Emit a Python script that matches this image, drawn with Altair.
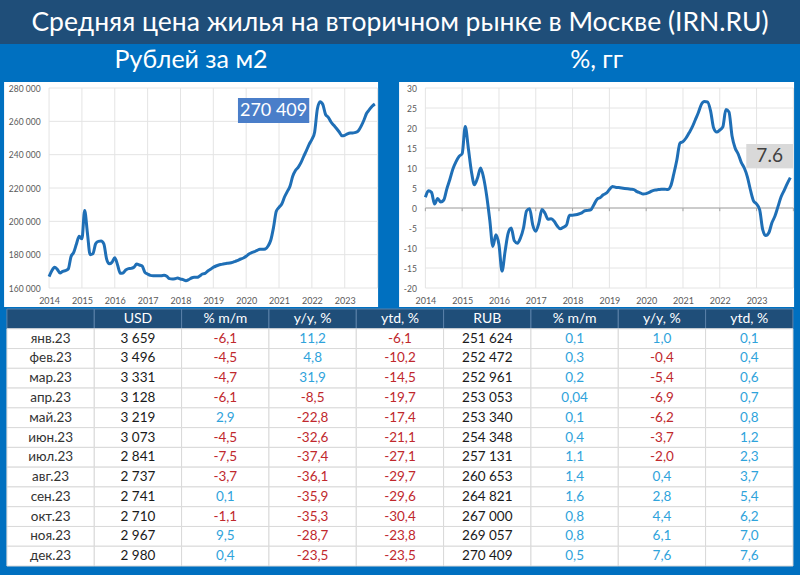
import altair as alt
import pandas as pd

# ---------------- text ----------------
TITLE = "Средняя цена жилья на вторичном рынке в Москве (IRN.RU)"
SUB_LEFT = "Рублей за м2"
SUB_RIGHT = "%, гг"

# ---------------- chart data ----------------
years = [2014, 2015, 2016, 2017, 2018, 2019, 2020, 2021, 2022, 2023]
price_ticks = [160000, 180000, 200000, 220000, 240000, 260000, 280000]
yoy_ticks = [-20, -15, -10, -5, 0, 5, 10, 15, 20, 25, 30]

# monthly, Jan 2014 .. Dec 2023, RUB per m2
price_rub = [
    166800, 170400, 172400, 171200, 169000, 170000, 170400, 171400, 178800, 181400, 186400, 191000,
    189500, 206500, 193000, 180000, 180500, 186500, 188000, 188200, 186500, 177500, 174500, 175500,
    178200, 174000, 168800, 169000, 170800, 171600, 171800, 172400, 174400, 173800, 173200, 169400,
    168400, 167600, 167400, 167400, 167400, 167400, 167600, 167000, 165600, 165400, 165600, 166000,
    165400, 165000, 164400, 165000, 166000, 166400, 166400, 167200, 168400, 168800, 170200, 171200,
    172400, 173200, 173800, 174200, 174600, 174800, 175000, 175400, 176000, 176600, 177400, 178000,
    179000, 180400, 181200, 181800, 182600, 183200, 183200, 183400, 185200, 188800, 196400, 206000,
    208400, 210400, 214600, 217800, 221000, 227000, 230500, 232400, 235200, 238900, 242400, 246200,
    249100, 253500, 267400, 271800, 270100, 264100, 262400, 259600, 257600, 255700, 253600, 251300,
    251624, 252472, 252961, 253053, 253340, 254348, 257131, 260653, 264821, 267000, 269057, 270409,
]

# monthly, Jan 2014 .. Dec 2023, % y/y
yoy_pct = [
    2.7, 4.3, 3.9, 1.0, 2.4, 1.5, 2.0, 4.8, 7.2, 9.8, 11.6, 12.9,
    13.6, 20.4, 15.0, 9.2, 5.8, 7.5, 10.0, 7.5, 3.0, -3.0, -9.6, -6.7,
    -9.2, -15.8, -10.8, -6.3, -5.0, -8.2, -8.8, -7.5, -5.0, -0.7, -0.2, -4.2,
    -5.8, -3.8, -0.4, -1.3, -2.8, -2.7, -3.3, -4.5, -5.2, -4.8, -4.3, -1.8,
    -1.8, -1.7, -1.5, -1.2, -0.7, -0.6, -0.4, 0.9, 2.2, 2.6, 3.3, 3.7,
    4.6, 5.4, 5.2, 5.1, 5.0, 4.9, 4.8, 4.7, 4.6, 4.1, 3.8, 3.5,
    3.6, 3.9, 4.3, 4.5, 4.6, 4.7, 4.7, 4.6, 5.5, 8.5, 12.0, 16.2,
    16.6, 17.5, 18.8, 20.2, 22.0, 23.8, 25.9, 26.6, 26.5, 24.3, 20.0, 19.0,
    19.5, 20.3, 24.6, 24.0, 18.0, 15.0, 13.5, 11.4, 10.0, 7.8, 4.5, 1.8,
    1.0, -0.4, -5.4, -6.9, -6.2, -3.7, -2.0, 0.4, 2.8, 4.4, 6.1, 7.6,
]

# ---------------- table data ----------------
months = ["янв.23", "фев.23", "мар.23", "апр.23", "май.23", "июн.23",
          "июл.23", "авг.23", "сен.23", "окт.23", "ноя.23", "дек.23"]
usd = [3659, 3496, 3331, 3128, 3219, 3073, 2841, 2737, 2741, 2710, 2967, 2980]
usd_mm = [-6.1, -4.5, -4.7, -6.1, 2.9, -4.5, -7.5, -3.7, 0.1, -1.1, 9.5, 0.4]
usd_yy = [11.2, 4.8, 31.9, -8.5, -22.8, -32.6, -37.4, -36.1, -35.9, -35.3, -28.7, -23.5]
usd_ytd = [-6.1, -10.2, -14.5, -19.7, -17.4, -21.1, -27.1, -29.7, -29.6, -30.4, -23.8, -23.5]
rub = [251624, 252472, 252961, 253053, 253340, 254348, 257131, 260653, 264821, 267000, 269057, 270409]
rub_mm = [0.1, 0.3, 0.2, 0.04, 0.1, 0.4, 1.1, 1.4, 1.6, 0.8, 0.8, 0.5]
rub_yy = [1.0, -0.4, -5.4, -6.9, -6.2, -3.7, -2.0, 0.4, 2.8, 4.4, 6.1, 7.6]
rub_ytd = [0.1, 0.4, 0.6, 0.7, 0.8, 1.2, 2.3, 3.7, 5.4, 6.2, 7.0, 7.6]
header = ["", "USD", "% m/m", "y/y, %", "ytd, %", "RUB", "% m/m", "y/y, %", "ytd, %"]

# ---------------- styles ----------------
FONT = "Lato"
NAVY = "#1F4E79"
BLUE = "#0070C0"
LINE = "#1f6fb6"
GRID = "#e4e4e4"
AXIS_LABEL = "#595959"
RED = "#C0282D"
LBLUE = "#2FA3DB"

assert len(price_rub) == 120 and len(yoy_pct) == 120


def fmt_int(v):
    return f"{v:,}".replace(",", " ")


def fmt_pct(v):
    s = f"{v:.1f}" if round(v, 1) == v else f"{v:.2f}"
    return s.replace(".", ",")


t_axis = [2014 + i / 12 for i in range(len(price_rub))]


def make_panel(values, ticks, ydom, x_range, y_range, width, height, label_expr,
               title, note, note_fill, note_color, note_size, zero_line):
    xs = alt.Scale(domain=[2014, 2024], range=x_range, nice=False, zero=False)
    ys = alt.Scale(domain=ydom, range=y_range, nice=False, zero=False)
    xa = alt.Axis(values=years, format="d", offset=-(height - y_range[0]),
                  domain=False, ticks=False, grid=False, labelPadding=8,
                  labelFontSize=9, labelFont=FONT, labelColor=AXIS_LABEL,
                  labelFlush=False, labelOverlap=False, title=None)
    ya = alt.Axis(values=ticks, offset=-x_range[0], domain=False, ticks=False,
                  grid=False, labelPadding=9, labelFontSize=8.5, labelFont=FONT,
                  labelColor=AXIS_LABEL, labelExpr=label_expr, title=None)

    def X(f):
        return alt.X(f, scale=xs, axis=xa, title=None)

    def Y(f):
        return alt.Y(f, scale=ys, axis=ya, title=None)

    hgrid = alt.Chart(pd.DataFrame({"v": ticks, "a": 2014, "b": 2024})).mark_rule(
        color=GRID, strokeWidth=1).encode(y=Y("v:Q"), x=X("a:Q"), x2="b:Q")
    vgrid = alt.Chart(pd.DataFrame({"yr": years + [2024], "lo": ydom[0], "hi": ydom[1]})).mark_rule(
        color=GRID, strokeWidth=1).encode(x=X("yr:Q"), y=Y("lo:Q"), y2="hi:Q")
    layers = [hgrid, vgrid]
    if zero_line:
        zl = alt.Chart(pd.DataFrame({"v": [0], "a": 2014, "b": 2024})).mark_rule(
            color="#a6a6a6", strokeWidth=1).encode(y=Y("v:Q"), x=X("a:Q"), x2="b:Q")
        zt = alt.Chart(pd.DataFrame({"yr": years + [2024], "lo": 0, "hi": -0.8})).mark_rule(
            color="#a6a6a6", strokeWidth=1).encode(x=X("yr:Q"), y=Y("lo:Q"), y2="hi:Q")
        layers += [zl, zt]
    line = alt.Chart(pd.DataFrame({"t": t_axis, "v": values})).mark_line(
        color=LINE, strokeWidth=3, interpolate="monotone").encode(x=X("t:Q"), y=Y("v:Q"))
    ndf = pd.DataFrame([note])
    box = alt.Chart(ndf).mark_rect(color=note_fill).encode(
        x=X("x0:Q"), x2="x1:Q", y=Y("y0:Q"), y2="y1:Q")
    txt = alt.Chart(ndf).mark_text(font=FONT, fontSize=note_size, color=note_color).encode(
        x=X("xc:Q"), y=Y("yc:Q"), text="label:N")
    layers += [line, box, txt]
    return alt.layer(*layers).properties(
        width=width, height=height,
        view=alt.ViewBackground(fill="white", strokeWidth=0),
        title=alt.TitleParams(text=title, color="white", font=FONT, fontSize=25,
                              fontWeight="normal", anchor="middle", baseline="alphabetic",
                              offset=-11, frame="group"),
    )


left = make_panel(
    price_rub, price_ticks, [160000, 280000], [45, 373.5], [206, 6], 374, 225,
    "replace(format(datum.value, ','), ',', ' ')", SUB_LEFT,
    dict(x0=2019.75, x1=2021.92, y0=274000, y1=259000, xc=2020.835, yc=266500,
         label=fmt_int(price_rub[-1])),
    "#4a7ec9", "white", 18, False)

right = make_panel(
    yoy_pct, yoy_ticks, [-20, 30], [26.3, 394.3], [206, 6], 395, 225,
    "'' + datum.value", SUB_RIGHT,
    dict(x0=2022.72, x1=2023.99, y0=16, y1=10, xc=2023.355, yc=13,
         label=f"{yoy_pct[-1]:.1f}"),
    "#d9d9d9", "#404040", 19, True)

# ---------------- table ----------------
col_keys = [f"c{i}" for i in range(len(header))]
rows = []
for j, h in enumerate(header):
    rows.append(dict(r=0, c=col_keys[j], txt=h, tc="white", fill=NAVY, stroke="#5a80a8", fs=14))
for i, m in enumerate(months):
    cells = [(m, "#333333"), (fmt_int(usd[i]), "#1a1a1a")]
    for v in (usd_mm[i], usd_yy[i], usd_ytd[i]):
        cells.append((fmt_pct(v), RED if v < 0 else LBLUE))
    cells.append((fmt_int(rub[i]), "#1a1a1a"))
    for v in (rub_mm[i], rub_yy[i], rub_ytd[i]):
        cells.append((fmt_pct(v), RED if v < 0 else LBLUE))
    for j, (s, col) in enumerate(cells):
        rows.append(dict(r=i + 1, c=col_keys[j], txt=s, tc=col, fill="white", stroke="#d9d9d9", fs=13.5))
tdf = pd.DataFrame(rows)

tbase = alt.Chart(tdf).encode(
    x=alt.X("c:N", sort=col_keys, axis=None, scale=alt.Scale(paddingInner=0, paddingOuter=0)),
    y=alt.Y("r:O", axis=None, scale=alt.Scale(paddingInner=0, paddingOuter=0)),
)
trect = tbase.mark_rect(strokeWidth=1).encode(
    fill=alt.Fill("fill:N", scale=None), stroke=alt.Stroke("stroke:N", scale=None))
ttext = tbase.mark_text(font=FONT).encode(
    text="txt:N", color=alt.Color("tc:N", scale=None), size=alt.Size("fs:Q", scale=None))
table = alt.layer(trect, ttext).properties(
    width=786, height=257, view=alt.ViewBackground(fill="white", strokeWidth=0))

# ---------------- title bar ----------------
top = alt.Chart(pd.DataFrame({"txt": [TITLE]})).mark_text(
    font=FONT, fontSize=26.5, color="white").encode(
    text="txt:N", x=alt.value(400), y=alt.value(23)).properties(
    width=800, height=44, view=alt.ViewBackground(fill=NAVY, strokeWidth=0))

panels = alt.hconcat(left, right, spacing=18)
lower = alt.vconcat(panels, table, spacing=1, center=True)
chart = alt.vconcat(top, lower, spacing=4, center=True).configure(
    background=BLUE, padding={"left": 0, "top": 0, "right": 0, "bottom": 11}
).configure_view(strokeWidth=0)

chart.save("out.html", embed_options={"renderer": "svg", "actions": False})
